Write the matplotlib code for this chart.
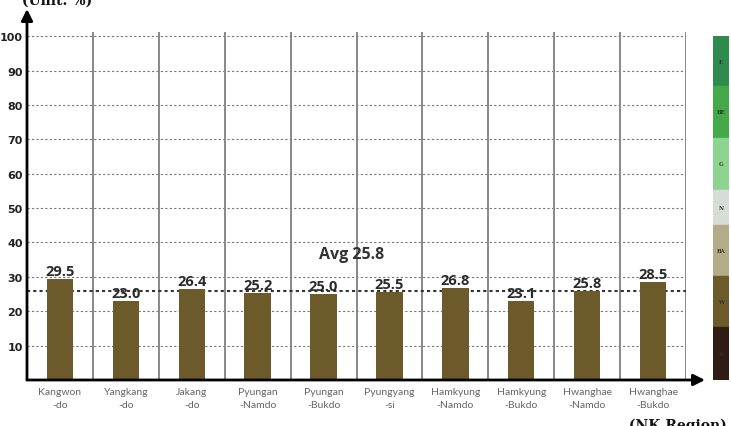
import matplotlib.pyplot as plt
from matplotlib.patches import Rectangle

# data
regions = ['Kangwon\n-do', 'Yangkang\n-do', 'Jakang\n-do', 'Pyungan\n-Namdo', 'Pyungan\n-Bukdo',
           'Pyungyang\n-si', 'Hamkyung\n-Namdo', 'Hamkyung\n-Bukdo', 'Hwanghae\n-Namdo', 'Hwanghae\n-Bukdo']
values = [29.5, 23.0, 26.4, 25.2, 25.0, 25.5, 26.8, 23.1, 25.8, 28.5]
avg_value = 25.8
yticks = [10, 20, 30, 40, 50, 60, 70, 80, 90, 100]

legend_labels = ['E', 'BE', 'G', 'N', 'BA', 'W', 'D']
legend_colors = ['#2f8a4e', '#44a948', '#8fd390', '#d8dcd9', '#b4ab89', '#6c5a2b', '#2f1d15']
legend_sizes = [50, 52, 52, 35, 51, 51, 53]

bar_color = '#6c5a2b'

fig = plt.figure(figsize=(7.31, 4.27), dpi=100)
ax = fig.add_axes([27 / 731, 46 / 427, 659 / 731, 348 / 427])

x = list(range(len(regions)))
ax.bar(x, values, width=0.4, color=bar_color, zorder=3)

for xi, v in zip(x, values):
    ax.text(xi, v + 0.3, f'{v:.1f}', ha='center', va='bottom', fontsize=10.5,
            color='#2a2a2a', fontweight='bold', family='Open Sans', zorder=4)

# grid
for t in yticks:
    ax.axhline(t, color='#777777', lw=0.8, ls=(0, (2, 2)), zorder=1)
for i in range(1, len(regions) + 1):
    ax.axvline(i - 0.5, color='#888888', lw=1.4, zorder=1)

# average line
ax.axhline(avg_value, color='#333333', lw=1.5, ls=(0, (1.5, 1.5)), zorder=2)
ax.text(4.42, 36.6, f'Avg {avg_value}', ha='center', va='center', fontsize=11.5,
        color='#333333', fontweight='bold', family='Open Sans', zorder=4)

ax.set_xlim(-0.5, len(regions) - 0.5)
ax.set_ylim(0, 101.2)
ax.set_xticks(x)
ax.set_xticklabels(regions, fontsize=7.5, color='#666666', family='Lato', linespacing=1.6)
ax.set_yticks(yticks)
ax.set_yticklabels([str(t) for t in yticks], fontsize=8, fontweight='bold', color='#222222')
ax.tick_params(length=0, pad=3)
ax.tick_params(axis='x', pad=5)
for s in ax.spines.values():
    s.set_visible(False)

# axis arrows
ax.annotate('', xy=(0, 1.066), xytext=(0, 0), xycoords='axes fraction',
            arrowprops=dict(arrowstyle='-|>', color='black', lw=2, mutation_scale=17,
                            shrinkA=0, shrinkB=0), zorder=5)
ax.annotate('', xy=(678 / 659, 0), xytext=(0, 0), xycoords='axes fraction',
            arrowprops=dict(arrowstyle='-|>', color='black', lw=2, mutation_scale=17,
                            shrinkA=0, shrinkB=0), zorder=5)

fig.text(22 / 731, 0.999, '(Unit: %)', ha='left', va='center', fontsize=10,
         fontweight='bold', family='DejaVu Serif', color='#111111')
fig.text(727 / 731, 0.003, '(NK Region)', ha='right', va='center', fontsize=10,
         fontweight='bold', family='DejaVu Serif', color='#111111')

# legend colour bar
lax = fig.add_axes([713 / 731, 46 / 427, 16 / 731, 344 / 427])
total = sum(legend_sizes)
top = total
for lab, col, h in zip(legend_labels, legend_colors, legend_sizes):
    lax.add_patch(Rectangle((0, top - h), 1, h, color=col))
    tc = '#3a2a1a' if lab == 'D' else '#333333'
    lax.text(0.5, top - h / 2, lab, ha='center', va='center', fontsize=4,
             family='DejaVu Serif', fontweight='bold', color=tc)
    top -= h
lax.set_xlim(0, 1)
lax.set_ylim(0, total)
lax.axis('off')

fig.savefig('out.png', dpi=100)
